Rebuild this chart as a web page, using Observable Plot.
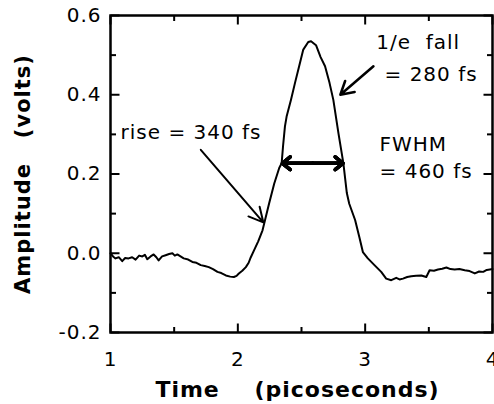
<!DOCTYPE html>
<html>
<head>
<meta charset="utf-8">
<script src="https://cdn.jsdelivr.net/npm/d3@7"></script>
<script src="https://cdn.jsdelivr.net/npm/@observablehq/plot@0.6"></script>
<style>
  html, body { margin: 0; padding: 0; background: #fff; }
</style>
</head>
<body>
<div id="chart"></div>
<script>
// ---- data ----
const time = [
  1.000, 1.020, 1.039, 1.065, 1.092, 1.115, 1.142, 1.170, 1.197, 1.225,
  1.250, 1.270, 1.289, 1.315, 1.339, 1.360, 1.378, 1.405, 1.433, 1.460,
  1.486, 1.505, 1.525, 1.550, 1.575, 1.610, 1.643, 1.675, 1.709, 1.740,
  1.772, 1.805, 1.840, 1.870, 1.906, 1.940, 1.969, 1.990, 2.008, 2.035,
  2.063, 2.085, 2.102, 2.128, 2.160, 2.194, 2.207, 2.246, 2.286, 2.325,
  2.344, 2.355, 2.370, 2.383, 2.417, 2.449, 2.480, 2.514, 2.553, 2.575,
  2.614, 2.650, 2.685, 2.720, 2.750, 2.790, 2.829, 2.856, 2.875, 2.921,
  2.955, 2.982, 3.021, 3.073, 3.126, 3.165, 3.205, 3.244, 3.270, 3.297,
  3.330, 3.362, 3.400, 3.441, 3.480, 3.506, 3.540, 3.572, 3.605, 3.638,
  3.670, 3.703, 3.740, 3.782, 3.820, 3.861, 3.895, 3.927, 3.955, 3.979,
  4.000
];
const amplitude = [
  0.000, -0.008, -0.013, -0.010, -0.020, -0.012, -0.013, -0.010, -0.016, -0.006,
  -0.008, -0.004, -0.015, -0.008, -0.003, -0.010, -0.018, -0.008, -0.005, -0.002,
  0.000, -0.006, -0.003, -0.008, -0.013, -0.016, -0.022, -0.024, -0.030, -0.032,
  -0.035, -0.040, -0.047, -0.050, -0.056, -0.059, -0.060, -0.057, -0.051, -0.044,
  -0.035, -0.024, -0.010, 0.008, 0.030, 0.058, 0.075, 0.126, 0.176, 0.215,
  0.227, 0.270, 0.320, 0.345, 0.387, 0.430, 0.470, 0.514, 0.533, 0.535,
  0.525, 0.495, 0.472, 0.430, 0.387, 0.303, 0.227, 0.152, 0.125, 0.084,
  0.040, 0.003, -0.013, -0.030, -0.047, -0.064, -0.068, -0.062, -0.066, -0.064,
  -0.060, -0.058, -0.057, -0.056, -0.060, -0.043, -0.044, -0.041, -0.039, -0.036,
  -0.040, -0.041, -0.040, -0.043, -0.045, -0.051, -0.046, -0.047, -0.042, -0.041,
  -0.040
];

const xMajor = [1, 2, 3, 4];
const xMinor = [1.5, 2.5, 3.5];
const yMajor = [-0.2, 0.0, 0.2, 0.4, 0.6];
const yMinor = [-0.1, 0.1, 0.3, 0.5];
const xTitle = "Time    (picoseconds)";
const yTitle = "Amplitude   (volts)";

// annotations
const noteText = ["rise = 340 fs", "1/e  fall", "= 280 fs", "FWHM", "= 460 fs"];
const noteX    = [1.079, 3.087, 3.152, 3.113, 3.113];
const noteY    = [0.304, 0.531, 0.451, 0.273, 0.206];

const riseArrow = {x1: 1.709, y1: 0.261, x2: 2.200, y2: 0.078};
const fallArrow = {x1: 3.065, y1: 0.472, x2: 2.805, y2: 0.400};
const fwhmLeft  = 2.350, fwhmRight = 2.826, fwhmLevel = 0.227;

// ---- layout ----
const W = 494, H = 404, ML = 110, MR = 2, MT = 15, MB = 72;
const xDomain = [1, 4], yDomain = [-0.2, 0.6];
const xPerPx = (xDomain[1] - xDomain[0]) / (W - ML - MR);
const yPerPx = (yDomain[1] - yDomain[0]) / (H - MT - MB);
const majorPx = 9, minorPx = 5.5;

// ---- build ----
const series = time.map((t, i) => ({t, v: amplitude[i]}));
const notes = noteText.map((s, i) => ({s, x: noteX[i], y: noteY[i]}));
const fwhmMid = (fwhmLeft + fwhmRight) / 2;
const fwhm = [
  {x1: fwhmMid, x2: fwhmLeft, y: fwhmLevel},
  {x1: fwhmMid, x2: fwhmRight, y: fwhmLevel}
];

// inward tick segments on all four sides (positions from the tick arrays)
const tickSegs = [];
for (const [vals, len] of [[xMajor, majorPx], [xMinor, minorPx]]) {
  const dy = len * yPerPx;
  for (const v of vals) {
    tickSegs.push({x1: v, x2: v, y1: yDomain[0], y2: yDomain[0] + dy});
    tickSegs.push({x1: v, x2: v, y1: yDomain[1], y2: yDomain[1] - dy});
  }
}
for (const [vals, len] of [[yMajor, majorPx], [yMinor, minorPx]]) {
  const dx = len * xPerPx;
  for (const v of vals) {
    tickSegs.push({x1: xDomain[0], x2: xDomain[0] + dx, y1: v, y2: v});
    tickSegs.push({x1: xDomain[1], x2: xDomain[1] - dx, y1: v, y2: v});
  }
}

// nested heads give a solid-looking arrowhead for the FWHM marker
const fwhmHeads = [18, 13, 8, 4].map(h =>
  Plot.arrow(fwhm, {x1: "x1", y1: "y", x2: "x2", y2: "y", stroke: "#000", strokeWidth: 3.5, headLength: h, headAngle: 78})
);

const chart = Plot.plot({
  width: W,
  height: H,
  marginLeft: ML,
  marginRight: MR,
  marginTop: MT,
  marginBottom: MB,
  style: {
    fontFamily: "'DejaVu Sans', sans-serif",
    fontSize: "20px",
    letterSpacing: "1px",
    color: "#000",
    background: "#fff"
  },
  x: {domain: xDomain},
  y: {domain: yDomain},
  marks: [
    // tick labels
    Plot.axisX({anchor: "bottom", ticks: xMajor, tickSize: 0, tickPadding: 19, tickFormat: d => String(d), label: null}),
    Plot.axisY({anchor: "left", ticks: yMajor, tickSize: 0, tickPadding: 9, tickFormat: d => d.toFixed(1), label: null}),
    // inward ticks
    Plot.link(tickSegs, {x1: "x1", y1: "y1", x2: "x2", y2: "y2", stroke: "#000", strokeWidth: 2}),
    Plot.frame({stroke: "#000", strokeWidth: 2.5}),
    // the trace
    Plot.line(series, {x: "t", y: "v", stroke: "#000", strokeWidth: 2}),
    // annotations
    Plot.text(notes, {x: "x", y: "y", text: "s", textAnchor: "start", fill: "#000"}),
    Plot.arrow([riseArrow], {x1: "x1", y1: "y1", x2: "x2", y2: "y2", stroke: "#000", strokeWidth: 2, headLength: 12, headAngle: 55}),
    Plot.arrow([fallArrow], {x1: "x1", y1: "y1", x2: "x2", y2: "y2", stroke: "#000", strokeWidth: 2.5, headLength: 14, headAngle: 60}),
    ...fwhmHeads,
    // axis titles
    Plot.text([xTitle], {text: d => d, frameAnchor: "bottom", dx: -4, dy: 57, textAnchor: "middle", lineAnchor: "middle", fontWeight: "bold", fontSize: 22, fill: "#000"}),
    Plot.text([yTitle], {text: d => d, frameAnchor: "left", dx: -87, rotate: -90, textAnchor: "middle", lineAnchor: "middle", fontWeight: "bold", fontSize: 21, fill: "#000"})
  ]
});

document.getElementById("chart").appendChild(chart);
</script>
</body>
</html>
